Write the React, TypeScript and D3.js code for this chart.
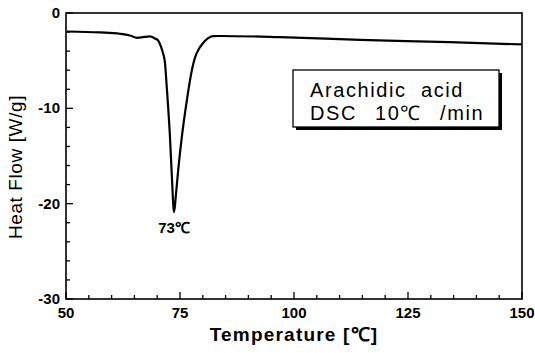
import React from 'react';
import * as d3 from 'd3';

// DSC trace
const temperature = [50.2, 57.5, 61.8, 64.0, 65.6, 67.1, 68.4, 69.5, 70.2, 70.8, 71.3, 71.7, 72.1, 72.8, 73.2, 73.7, 74.1, 74.6, 75.4, 76.5, 77.4, 78.3, 79.2, 80.0, 81.1, 82.2, 83.8, 96.9, 114.5, 134.2, 150];
const heatFlow = [-1.94, -2.04, -2.18, -2.36, -2.6, -2.51, -2.46, -2.67, -2.88, -3.5, -4.24, -5.2, -7.8, -13.0, -17.0, -20.9, -19.1, -16.5, -13.0, -9.16, -6.5, -4.66, -3.72, -3.19, -2.67, -2.43, -2.41, -2.53, -2.81, -3.06, -3.3];

const xMajor = [50, 75, 100, 125, 150];
const xMinor = d3.range(50, 151, 5);
const yMajor = [0, -10, -20, -30];
const yMinor = d3.range(-30, 1, 2);

// legend words with their left edge in the box
const legendWords = [
  { text: 'Arachidic', x: 310, row: 0 },
  { text: 'acid', x: 421, row: 0 },
  { text: 'DSC', x: 310, row: 1 },
  { text: '10\u2103', x: 375, row: 1 },
  { text: '/min', x: 440, row: 1 },
];
const peakLabel = '73\u2103';

const App = () => {
  const width = 535;
  const height = 353;
  const marginLeft = 66;
  const marginRight = 13;
  const marginTop = 13;
  const marginBottom = 54;

  const x = d3.scaleLinear().domain([50, 150]).range([marginLeft, width - marginRight]);
  const y = d3.scaleLinear().domain([-30, 0]).range([height - marginBottom, marginTop]);

  const line = d3.line<number>()
    .x((d, i) => x(temperature[i]))
    .y((d) => y(d))
    .curve(d3.curveMonotoneX);

  const font = "'Liberation Sans', Arial, sans-serif";
  const bottom = y(-30);

  return (
    <svg width={width} height={height} style={{ position: 'absolute', left: 0, top: 0, background: '#fff', fontFamily: font }}>
      {/* frame */}
      <rect x={x(50)} y={y(0)} width={x(150) - x(50)} height={bottom - y(0)} fill="none" stroke="#000" strokeWidth={1.6} />

      {/* x ticks */}
      {xMinor.map((t) => (
        <line key={'xt' + t} x1={x(t)} x2={x(t)} y1={bottom} y2={bottom - (xMajor.includes(t) ? 7 : 4)} stroke="#000" strokeWidth={1.3} />
      ))}
      {xMajor.map((t) => (
        <text key={'xl' + t} x={x(t)} y={bottom + 19} textAnchor="middle" fontSize={15} fontWeight="bold">{t}</text>
      ))}

      {/* y ticks */}
      {yMinor.map((t) => (
        <line key={'yt' + t} x1={x(50)} x2={x(50) + (yMajor.includes(t) ? 7 : 4)} y1={y(t)} y2={y(t)} stroke="#000" strokeWidth={1.3} />
      ))}
      {yMajor.map((t) => (
        <text key={'yl' + t} x={x(50) - 6} y={y(t) + 5} textAnchor="end" fontSize={15} fontWeight="bold">{t}</text>
      ))}

      {/* curve */}
      <path d={line(heatFlow) || ''} fill="none" stroke="#000" strokeWidth={2.2} />

      <text x={x(73.7)} y={y(-20.9) + 21} textAnchor="middle" fontSize={15} fontWeight="bold">{peakLabel}</text>

      {/* legend box with shadow */}
      <rect x={296} y={73} width={206} height={57} fill="#000" />
      <rect x={293} y={70} width={206} height={57} fill="#fff" stroke="#000" strokeWidth={1.3} />
      {legendWords.map((w) => (
        <text key={w.text} x={w.x} y={97 + w.row * 23} fontSize={20} letterSpacing={1.6}>{w.text}</text>
      ))}

      {/* axis titles */}
      <text x={(x(50) + x(150)) / 2} y={341} textAnchor="middle" fontSize={19} fontWeight="bold" letterSpacing={1.2}>Temperature [{'\u2103'}]</text>
      <text transform={`translate(22,${(y(0) + bottom) / 2 + 11}) rotate(-90)`} textAnchor="middle" fontSize={19} letterSpacing={0.6}>Heat Flow [W/g]</text>
    </svg>
  );
};

export default App;
